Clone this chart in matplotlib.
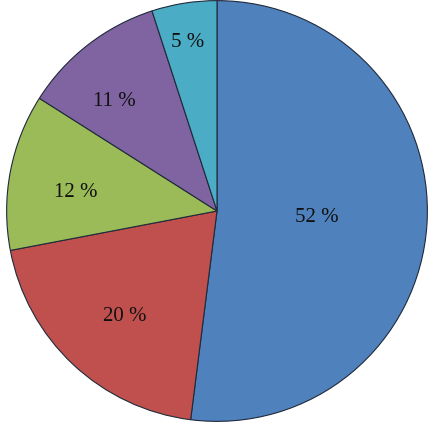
import numpy as np
import matplotlib
matplotlib.use("Agg")
import matplotlib.pyplot as plt

values = [52, 20, 12, 11, 5]
labels = ["52 %", "20 %", "12 %", "11 %", "5 %"]
colors = ["#4F81BD", "#C0504D", "#9BBB59", "#8064A2", "#4BACC6"]
label_radii = [0.477, 0.656, 0.681, 0.723, 0.827]
label_angle_shift = [1.6, 1.0, 2.2, 4.7, 0.7]

fig = plt.figure(figsize=(4.32, 4.27), dpi=100)
ax = fig.add_axes([6/432, 4/427, 422/432, 422/427])
wedges, _ = ax.pie(values, colors=colors, startangle=90, counterclock=False,
                   wedgeprops=dict(edgecolor="#1f2a3a", linewidth=0.8))
ax.set_xlim(-1.003, 1.003)
ax.set_ylim(-1.003, 1.003)
for w, lab, r, da in zip(wedges, labels, label_radii, label_angle_shift):
    ang = np.deg2rad((w.theta1 + w.theta2) / 2 + da)
    ax.text(r * np.cos(ang), r * np.sin(ang) - 0.01, lab, ha="center", va="center",
            fontsize=15, family="Liberation Serif", color="#111111")
fig.savefig("out.png", dpi=100)
